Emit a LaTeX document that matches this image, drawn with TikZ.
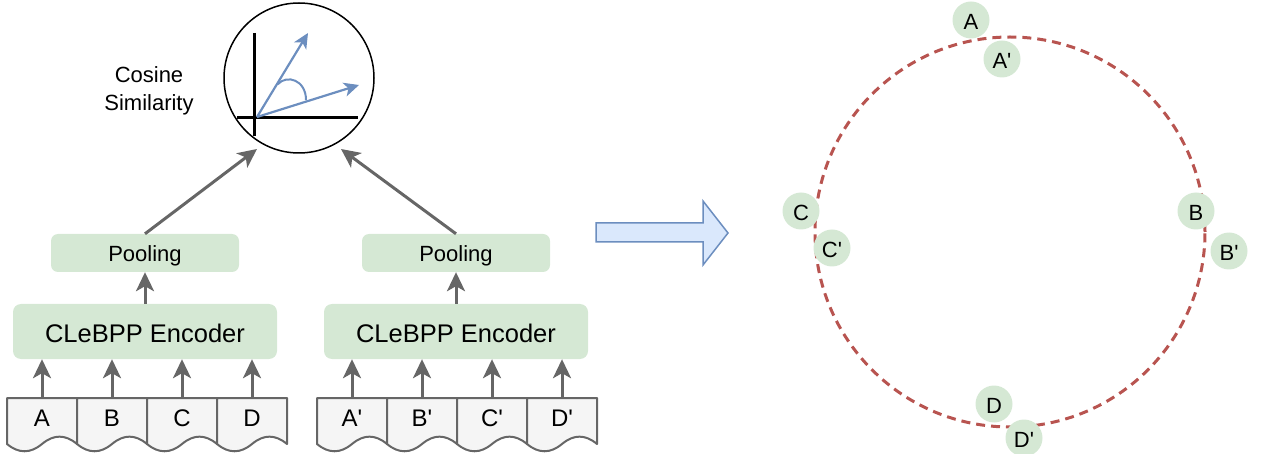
\documentclass[tikz,border=0pt]{standalone}
\usepackage{fontspec}
\setmainfont{Liberation Sans}
\usetikzlibrary{arrows.meta}
\font\lcfont="Liberation Sans" at 22pt
\font\docfont="Liberation Sans" at 24pt
\definecolor{grn}{HTML}{D5E8D4}
\definecolor{gry}{HTML}{666666}
\definecolor{docfill}{HTML}{F5F5F5}
\definecolor{blu}{HTML}{6C8EBF}
\definecolor{blufill}{HTML}{DAE8FC}
\definecolor{redd}{HTML}{B85450}
\tikzset{
  encbox/.style={fill=grn, rounded corners=8pt, minimum width=264pt, minimum height=55pt, inner sep=0pt, text height=21.6pt, text depth=0pt, font=\fontsize{25.5}{30}\selectfont},
  poolbox/.style={fill=grn, rounded corners=7pt, minimum width=188pt, minimum height=38pt, inner sep=0pt, text height=18pt, text depth=0pt, font=\fontsize{22}{26}\selectfont},
  cell/.style={minimum width=70pt, minimum height=40pt, inner sep=0pt, anchor=north, text height=17.4pt, text depth=0pt, font=\docfont},
  docshape/.style={draw=gry, fill=docfill, line width=2pt, line join=round},
  garr/.style={draw=gry, line width=3pt, -{Stealth[length=19pt,width=18pt,inset=5pt]}},
  barr/.style={draw=blu, line width=2.2pt, -{Stealth[length=15pt,width=14pt,inset=4pt]}},
  axis/.style={draw=black, line width=3pt},
  lc/.style={circle, fill=grn, minimum size=37pt, inner sep=0pt, text height=18.6pt, text depth=0pt, font=\lcfont},
}
\newcommand\mydocshape[1]{%
  \draw[docshape, shift={(#1,0)}] (0,398) -- (70,398) -- (70,444)
    .. controls (58.3,434.2) and (46.7,434.2) .. (35,444)
    .. controls (23.3,453.7) and (11.7,453.7) .. (0,444) -- cycle;}
\begin{document}
\begin{tikzpicture}[x=1pt,y=-1pt]
\useasboundingbox (0,0) rectangle (1261,454);
% documents
\foreach \xx in {7,77,147,217,317,387,457,527} {\mydocshape{\xx}}
\node[cell] (dA) at (42,398) {A};
\node[cell] (dB) at (112,398) {B};
\node[cell] (dC) at (182,398) {C};
\node[cell] (dD) at (252,398) {D};
\node[cell] (dA2) at (352,398) {A'};
\node[cell] (dB2) at (422,398) {B'};
\node[cell] (dC2) at (492,398) {C'};
\node[cell] (dD2) at (562,398) {D'};
% encoders and pooling
\node[encbox] (enc1) at (145,331.5) {CLeBPP Encoder};
\node[encbox] (enc2) at (456,331.5) {CLeBPP Encoder};
\node[poolbox] (pool1) at (145,253) {Pooling};
\node[poolbox] (pool2) at (456,253) {Pooling};
\foreach \c in {dA,dB,dC,dD}{\draw[garr] (\c.north) -- (\c.north |- enc1.south);}
\foreach \c in {dA2,dB2,dC2,dD2}{\draw[garr] (\c.north) -- (\c.north |- enc2.south);}
\draw[garr] (enc1.north) -- (pool1.south);
\draw[garr] (enc2.north) -- (pool2.south);
% cosine circle
\node[circle, draw=black, line width=1.5pt, minimum size=150pt, inner sep=0pt] (cos) at (299,78) {};
\coordinate (t1) at (257,149);
\coordinate (t2) at (341,149);
\draw[garr] (pool1.north) -- (t1);
\draw[garr] (pool2.north) -- (t2);
\coordinate (vtop) at (254,33);
\coordinate (vbot) at (254,136);
\coordinate (hl) at (237,118);
\coordinate (hr) at (358,118);
\draw[axis] (vtop) -- (vbot);
\draw[axis] (hl) -- (hr);
\coordinate (o) at (257,117);
\coordinate (tipa) at (308,33);
\coordinate (tipb) at (359,85);
\draw[barr] (o) -- (tipa);
\draw[barr] (o) -- (tipb);
\draw[draw=blu, line width=2pt] (277.7,84.3) .. controls (287,74) and (306,80) .. (306,100);
\node[align=center, font=\fontsize{22}{28}\selectfont] (cslabel) at (149,91) {Cosine\\Similarity};
% big arrow
\draw[draw=blu, fill=blufill, line width=1.5pt, line join=miter]
  (596,223) -- (703,223) -- (703,201) -- (728,233) -- (703,265) -- (703,242) -- (596,242) -- cycle;
% ring
\node[circle, draw=redd, line width=3pt, dash pattern=on 9pt off 6pt, minimum size=390pt, inner sep=0pt] (ring) at (1010,232) {};
\node[lc] (nA) at (971,20) {A};
\node[lc] (nA2) at (1002,59) {A'};
\node[lc] (nB) at (1196,211) {B};
\node[lc] (nB2) at (1229,251) {B'};
\node[lc] (nC) at (801,211) {C};
\node[lc] (nC2) at (832,248) {C'};
\node[lc] (nD) at (994,404) {D};
\node[lc] (nD2) at (1024,438) {D'};
\end{tikzpicture}
\end{document}
